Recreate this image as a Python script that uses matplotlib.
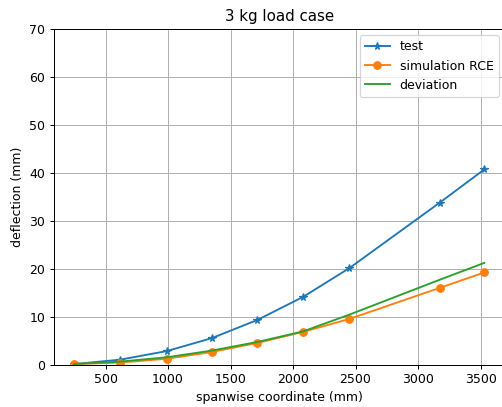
import matplotlib
matplotlib.use('Agg')
import matplotlib.pyplot as plt

# spanwise positions of measuring points (mm)
span = [250, 615, 990, 1350, 1715, 2080, 2450, 3175, 3530]
# deflections (mm)
test = [0.1, 1.0, 2.8, 5.5, 9.3, 14.1, 20.1, 33.8, 40.7]
sim_rce = [0.1, 0.4, 1.2, 2.6, 4.5, 6.8, 9.5, 16.0, 19.2]
deviation = [0.1, 0.6, 1.5, 2.9, 4.7, 6.9, 10.4, 17.7, 21.2]

DPI = 90
fig = plt.figure(figsize=(502 / DPI, 407 / DPI), dpi=DPI)
ax = fig.add_axes([53.8 / 502, 1 - 364.5 / 407, 451 / 502, 335.5 / 407])

ax.plot(span, test, marker='*', label='test')
ax.plot(span, sim_rce, marker='o', label='simulation RCE')
ax.plot(span, deviation, label='deviation')

ax.set_ylim(0, 70)
ax.set_title('3 kg load case')
ax.set_xlabel('spanwise coordinate (mm)')
ax.set_ylabel('deflection (mm)')
ax.grid(True)
ax.legend(loc='upper right')

fig.savefig('out.png', dpi=DPI)
